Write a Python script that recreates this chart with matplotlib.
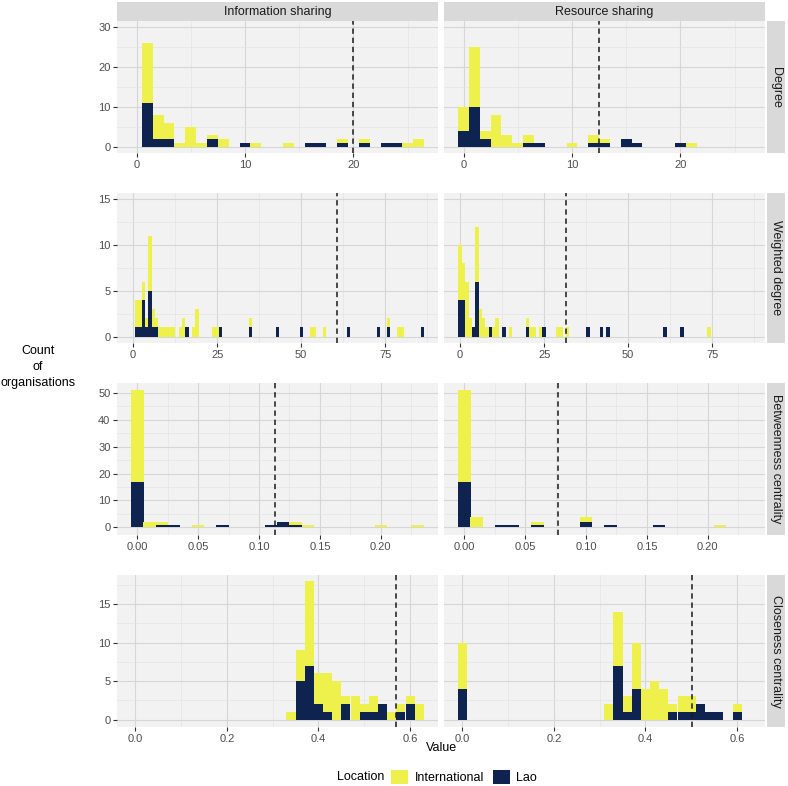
import matplotlib
matplotlib.use("Agg")
import matplotlib.pyplot as plt
from matplotlib.patches import Patch

plt.rcParams['font.family'] = ['Liberation Sans', 'DejaVu Sans']

# counts per bin (Lao at bottom, International stacked on top)
deg_info_x = [1, 2, 3, 4, 5, 6, 7, 8, 10, 11, 14, 16, 17, 19, 21, 23, 24, 25, 26]
deg_info_lao = [11, 2, 2, 0, 0, 0, 2, 0, 1, 0, 0, 1, 1, 1, 1, 1, 1, 0, 0]
deg_info_intl = [15, 6, 4, 1, 5, 1, 1, 2, 0, 1, 1, 0, 0, 1, 1, 0, 0, 1, 2]

deg_res_x = [0, 1, 2, 3, 4, 5, 6, 7, 10, 12, 13, 15, 16, 20, 21]
deg_res_lao = [4, 10, 2, 0, 0, 0, 1, 1, 0, 1, 1, 2, 1, 1, 0]
deg_res_intl = [6, 15, 2, 8, 3, 1, 2, 0, 1, 2, 1, 0, 0, 0, 1]

wd_info_x = [1, 2, 3, 4, 5, 6, 7, 8, 9, 10, 11, 12, 14, 15, 16, 18, 19, 24, 25, 26,
             35, 43, 50, 53, 54, 57, 64, 73, 76, 79, 80, 86]
wd_info_lao = [1, 1, 4, 1, 5, 1, 1, 0, 0, 0, 0, 0, 0, 0, 1, 0, 0, 0, 0, 1,
               1, 1, 1, 0, 0, 0, 1, 1, 1, 0, 0, 1]
wd_info_intl = [3, 3, 2, 1, 6, 2, 1, 1, 1, 1, 1, 1, 1, 2, 0, 1, 3, 1, 1, 0,
                1, 0, 0, 1, 1, 1, 0, 0, 1, 1, 1, 0]

wd_res_x = [0, 1, 2, 3, 4, 5, 6, 7, 8, 9, 10, 11, 13, 15, 20, 21, 22, 24, 25, 29,
            30, 32, 38, 42, 44, 61, 66, 74]
wd_res_lao = [4, 4, 0, 0, 1, 6, 0, 0, 0, 1, 0, 0, 1, 0, 1, 0, 0, 0, 1, 0,
              0, 0, 1, 1, 1, 1, 1, 0]
wd_res_intl = [6, 4, 6, 2, 0, 6, 3, 2, 1, 0, 1, 2, 0, 1, 1, 1, 1, 1, 0, 1,
               1, 1, 0, 0, 0, 0, 0, 1]

bt_info_x = [0.00, 0.01, 0.02, 0.03, 0.05, 0.07, 0.11, 0.12, 0.13, 0.14, 0.20, 0.23]
bt_info_lao = [17, 0, 1, 1, 0, 1, 1, 2, 1, 0, 0, 0]
bt_info_intl = [34, 2, 1, 0, 1, 0, 0, 0, 1, 1, 1, 1]

bt_res_x = [0.00, 0.01, 0.03, 0.04, 0.06, 0.10, 0.12, 0.16, 0.21]
bt_res_lao = [17, 0, 1, 1, 1, 2, 1, 1, 0]
bt_res_intl = [34, 4, 0, 0, 1, 2, 0, 0, 1]

cl_info_x = [0.34, 0.36, 0.38, 0.40, 0.42, 0.44, 0.46, 0.48, 0.50, 0.52, 0.54, 0.56, 0.58, 0.60, 0.62]
cl_info_lao = [0, 5, 7, 2, 1, 0, 2, 0, 1, 1, 2, 0, 1, 2, 0]
cl_info_intl = [1, 4, 11, 4, 5, 5, 1, 3, 1, 2, 0, 1, 1, 1, 2]

cl_res_x = [0.00, 0.32, 0.34, 0.36, 0.38, 0.40, 0.42, 0.44, 0.46, 0.48, 0.50, 0.52, 0.54, 0.56, 0.60]
cl_res_lao = [4, 0, 7, 1, 4, 0, 0, 0, 1, 1, 1, 2, 1, 1, 1]
cl_res_intl = [6, 2, 7, 2, 6, 4, 5, 4, 1, 2, 2, 0, 0, 0, 1]

# dashed reference lines (info, resource)
deg_mean = [20.0, 12.5]
wd_mean = [60.7, 31.5]
bt_mean = [0.113, 0.077]
cl_mean = [0.570, 0.502]

columns = ["Information sharing", "Resource sharing"]
measures = ["Degree", "Weighted degree", "Betweenness centrality", "Closeness centrality"]

YELLOW = "#EEF04C"
NAVY = "#0F2350"

rows = [
    dict(data=[(deg_info_x, deg_info_lao, deg_info_intl), (deg_res_x, deg_res_lao, deg_res_intl)],
         mean=deg_mean, width=1.0, xlim=(-1.8, 27.8), ylim=(-1.6, 31.6),
         xt=[0, 10, 20], xl=["0", "10", "20"], xm=[5, 15, 25],
         yt=[0, 10, 20, 30], ym=[5, 15, 25]),
    dict(data=[(wd_info_x, wd_info_lao, wd_info_intl), (wd_res_x, wd_res_lao, wd_res_intl)],
         mean=wd_mean, width=1.0, xlim=(-4.8, 90.7), ylim=(-0.7, 15.7),
         xt=[0, 25, 50, 75], xl=["0", "25", "50", "75"], xm=[12.5, 37.5, 62.5, 87.5],
         yt=[0, 5, 10, 15], ym=[2.5, 7.5, 12.5]),
    dict(data=[(bt_info_x, bt_info_lao, bt_info_intl), (bt_res_x, bt_res_lao, bt_res_intl)],
         mean=bt_mean, width=0.0102, xlim=(-0.0167, 0.247), ylim=(-2.85, 53.7),
         xt=[0, 0.05, 0.10, 0.15, 0.20], xl=["0.00", "0.05", "0.10", "0.15", "0.20"],
         xm=[0.025, 0.075, 0.125, 0.175, 0.225],
         yt=[0, 10, 20, 30, 40, 50], ym=[5, 15, 25, 35, 45]),
    dict(data=[(cl_info_x, cl_info_lao, cl_info_intl), (cl_res_x, cl_res_lao, cl_res_intl)],
         mean=cl_mean, width=0.0198, xlim=(-0.040, 0.661), ylim=(-0.97, 18.8),
         xt=[0, 0.2, 0.4, 0.6], xl=["0.0", "0.2", "0.4", "0.6"], xm=[0.1, 0.3, 0.5],
         yt=[0, 5, 10, 15], ym=[2.5, 7.5, 12.5, 17.5]),
]

W, H = 788, 786
fig = plt.figure(figsize=(W / 100, H / 100), dpi=100)


def px_axes(x0, y0, x1, y1):
    return fig.add_axes([x0 / W, 1 - y1 / H, (x1 - x0) / W, (y1 - y0) / H])


col_px = [(117, 438), (444, 765)]
row_px = [(21, 153), (193, 343), (383, 535), (575, 727)]

for r, spec in enumerate(rows):
    y0, y1 = row_px[r]
    for c in range(2):
        x0, x1 = col_px[c]
        ax = px_axes(x0, y0, x1, y1)
        ax.set_facecolor("#F2F2F2")
        for s in ax.spines.values():
            s.set_visible(False)
        xs, lao, intl = spec["data"][c]
        ax.bar(xs, lao, width=spec["width"], color=NAVY, linewidth=0, zorder=2)
        ax.bar(xs, intl, width=spec["width"], bottom=lao, color=YELLOW, linewidth=0, zorder=2)
        ax.axvline(spec["mean"][c], color="#1A1A1A", lw=1.1, ls=(0, (3.5, 2.5)), zorder=3)
        ax.set_xlim(*spec["xlim"])
        ax.set_ylim(*spec["ylim"])
        ax.set_xticks(spec["xt"])
        ax.set_xticklabels(spec["xl"])
        ax.set_xticks(spec["xm"], minor=True)
        ax.set_yticks(spec["yt"])
        ax.set_yticks(spec["ym"], minor=True)
        ax.grid(which="major", color="#D6D6D6", lw=0.8, zorder=0)
        ax.grid(which="minor", color="#E4E4E4", lw=0.5, zorder=0)
        ax.set_axisbelow(True)
        ax.tick_params(which="minor", length=0)
        ax.tick_params(which="major", length=2.7, width=0.8, color="#333333",
                       labelsize=8, labelcolor="#4D4D4D", pad=2)
        if c == 1:
            ax.tick_params(axis="y", left=False, labelleft=False)
        # right strip
        if c == 1:
            sax = px_axes(767, y0, 785, y1)
            sax.set_facecolor("#D9D9D9")
            sax.set_xticks([])
            sax.set_yticks([])
            for s in sax.spines.values():
                s.set_visible(False)
            sax.text(0.5, 0.5, measures[r], rotation=-90, ha="center", va="center",
                     fontsize=9, color="#1A1A1A", transform=sax.transAxes)
        # top strip
        if r == 0:
            tax = px_axes(x0, 2, x1, 21)
            tax.set_facecolor("#D9D9D9")
            tax.set_xticks([])
            tax.set_yticks([])
            for s in tax.spines.values():
                s.set_visible(False)
            tax.text(0.5, 0.5, columns[c], ha="center", va="center",
                     fontsize=9, color="#1A1A1A", transform=tax.transAxes)

fig.text(38 / W, 1 - 367 / H, "Count\nof\norganisations", ha="center", va="center",
         fontsize=9, linespacing=1.45)
fig.text(441 / W, 1 - 748 / H, "Value", ha="center", va="center", fontsize=9)

fig.text(384 / W, 1 - 777 / H, "Location", ha="right", va="center", fontsize=9)
handles = [Patch(facecolor=YELLOW, edgecolor="none", label="International"),
           Patch(facecolor=NAVY, edgecolor="none", label="Lao")]
fig.legend(handles=handles, loc="center", bbox_to_anchor=(464 / W, 1 - 777 / H),
           ncol=2, frameon=False, fontsize=9, handlelength=1.35, handleheight=1.35,
           handletextpad=0.5, columnspacing=0.7, borderpad=0, borderaxespad=0)

fig.savefig("out.png", dpi=100)
